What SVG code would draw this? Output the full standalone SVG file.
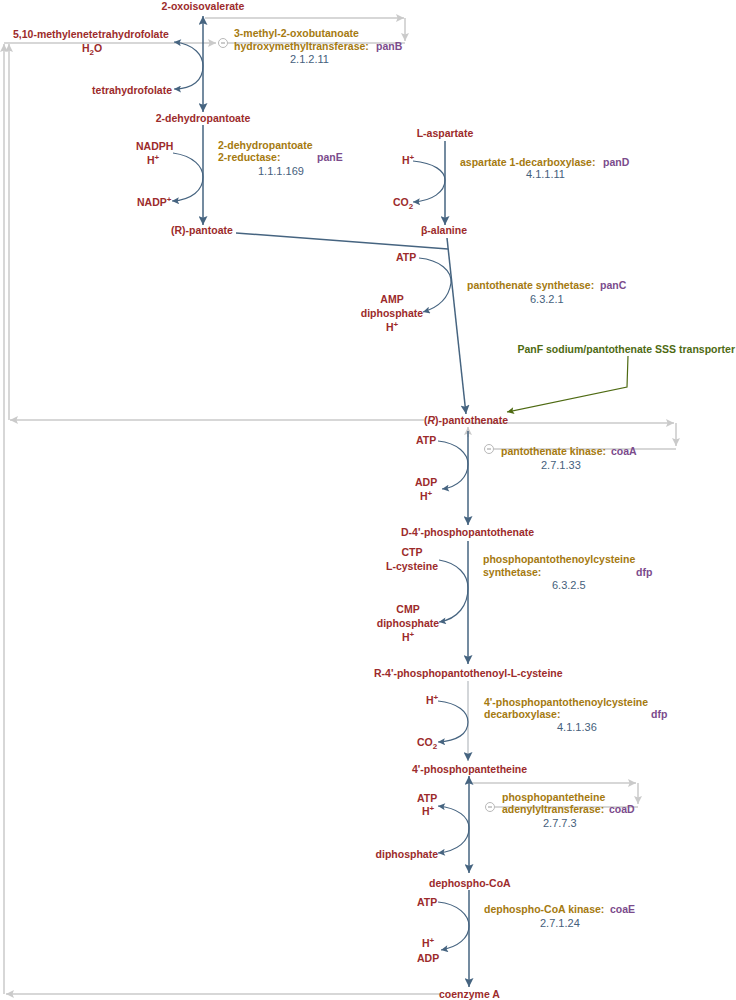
<svg xmlns="http://www.w3.org/2000/svg" width="736" height="1000" viewBox="0 0 736 1000">
<style>
text{font-family:"Liberation Sans",Arial,sans-serif;font-size:11px}
.m,.e,.g,.t{font-size:10.5px;font-weight:bold}
.m{fill:#9c2b2b}
.e{fill:#a57a10}
.g{fill:#7b4b8c}
.ec{fill:#45607c}
.t{fill:#4e6a12}
.ln{fill:none;stroke:#466480;stroke-width:1.5}
.sd{fill:none;stroke:#466480;stroke-width:1.2}
.gr{fill:none;stroke:#cacaca;stroke-width:1.5}
.inh{fill:#fff;stroke:#b8b8b8;stroke-width:1}
</style>
<defs>
<marker id="ah" viewBox="0 0 10 10" refX="10" refY="5" markerWidth="10" markerHeight="9" markerUnits="userSpaceOnUse" orient="auto-start-reverse"><path d="M0,0 L10,5 L0,10 L2,5 z" fill="#466480"/></marker>
<marker id="as" viewBox="0 0 10 10" refX="10" refY="5" markerWidth="9" markerHeight="7" markerUnits="userSpaceOnUse" orient="auto-start-reverse"><path d="M0,0 L10,5 L0,10 L2,5 z" fill="#466480"/></marker>
<marker id="ag" viewBox="0 0 10 10" refX="10" refY="5" markerWidth="9" markerHeight="8" markerUnits="userSpaceOnUse" orient="auto"><path d="M0,0 L10,5 L0,10 L2,5 z" fill="#cacaca"/></marker>
<marker id="at" viewBox="0 0 10 10" refX="10" refY="5" markerWidth="10" markerHeight="7" markerUnits="userSpaceOnUse" orient="auto"><path d="M0,0 L10,5 L0,10 L2,5 z" fill="#4e6a12"/></marker>
</defs>

<g id="connectors">
<path class="gr" d="M205 18 H404" marker-end="url(#ag)"/>
<path class="gr" d="M405 18 V41" marker-end="url(#ag)"/>
<path class="gr" d="M405 43 H228"/>
<path class="gr" d="M4 43 H216" marker-end="url(#ag)"/>
<path class="gr" d="M440 994 H6" marker-end="url(#ag)"/>
<path class="gr" d="M4 994 V44" marker-end="url(#ag)"/>
<path class="gr" d="M424 420 H10" marker-end="url(#ag)"/>
<path class="gr" d="M9 420 V44" marker-end="url(#ag)"/>
<path class="gr" d="M468 437 V427" marker-end="url(#ag)"/>
<path class="gr" d="M470 423 H674" marker-end="url(#ag)"/>
<path class="gr" d="M676 423 V446" marker-end="url(#ag)"/>
<path class="gr" d="M676 449 H494"/>
<path class="gr" d="M470 783 H636" marker-end="url(#ag)"/>
<path class="gr" d="M638 783 V804" marker-end="url(#ag)"/>
<path class="gr" d="M638 807 H495"/>
<circle class="inh" cx="223" cy="43" r="4.5"/><path d="M221 43 H225" stroke="#999" stroke-width="1"/>
<circle class="inh" cx="489" cy="449" r="4.5"/><path d="M487 449 H491" stroke="#999" stroke-width="1"/>
<circle class="inh" cx="490" cy="807" r="4.5"/><path d="M488 807 H492" stroke="#999" stroke-width="1"/>

<path class="ln" d="M203 16 V112" marker-start="url(#ah)" marker-end="url(#ah)"/>
<path class="ln" d="M203 125 V225" marker-end="url(#ah)"/>
<path class="ln" d="M445 141 V225" marker-end="url(#ah)"/>
<path class="ln" d="M236 233 L448 249"/>
<path class="ln" d="M447 238 L466 414" marker-end="url(#ah)"/>
<path class="ln" d="M468 431 V525" marker-end="url(#ah)"/>
<path class="ln" d="M468 541 V664" marker-end="url(#ah)"/>
<path d="M468 681 V761" fill="none" stroke="#c4c8cc" stroke-width="1.5" marker-end="url(#ah)"/>
<path class="ln" d="M469 776 V873" marker-start="url(#ah)" marker-end="url(#ah)"/>
<path class="ln" d="M469 890 V987" marker-end="url(#ah)"/>

<path class="sd" d="M174 42 C195 44,203 56,203 66 C203 80,193 89,174 89" marker-start="url(#as)" marker-end="url(#as)"/>
<path class="sd" d="M173 153 C194 156,203 167,203 177 C203 190,192 200,172 201" marker-end="url(#as)"/>
<path class="sd" d="M413 161 C434 163,445 171,445 180 C445 192,432 201,413 202" marker-end="url(#as)"/>
<path class="sd" d="M419 258 C440 260,452 271,451 283 C449 296,440 307,423 312" marker-end="url(#as)"/>
<path class="sd" d="M438 441 C458 443,468 454,468 464 C468 477,458 487,442 489" marker-end="url(#as)"/>
<path class="sd" d="M439 560 C458 563,468 575,468 588 C468 605,458 619,439 622" marker-end="url(#as)"/>
<path class="sd" d="M438 701 C458 703,468 712,468 722 C468 734,457 741,438 742" marker-end="url(#as)"/>
<path class="sd" d="M438 806 C458 808,469 817,469 828 C469 841,458 851,438 853" marker-start="url(#as)" marker-end="url(#as)"/>
<path class="sd" d="M438 902 C458 904,469 915,469 926 C469 938,458 947,441 950" marker-end="url(#as)"/>

<path d="M628 356 L627 387 L507 412" fill="none" stroke="#4e6a12" stroke-width="1.2" marker-end="url(#at)"/>
</g>

<g id="n-2-oxoisovalerate"><text class="m" x="203" y="10" text-anchor="middle">2-oxoisovalerate</text></g>
<g id="n-methylene-thf"><text class="m" x="13" y="38">5,10-methylenetetrahydrofolate</text></g>
<g id="n-h2o"><text class="m" x="82" y="52">H<tspan dy="3" font-size="8">2</tspan><tspan dy="-3">O</tspan></text></g>
<g id="n-thf"><text class="m" x="172" y="94" text-anchor="end">tetrahydrofolate</text></g>
<g id="n-2-dehydropantoate"><text class="m" x="203" y="122" text-anchor="middle">2-dehydropantoate</text></g>
<g id="e-panB">
<text class="e" x="234" y="37">3-methyl-2-oxobutanoate</text>
<text class="e" x="234" y="50">hydroxymethyltransferase:</text>
<text class="g" x="376" y="50">panB</text>
<text class="ec" x="290" y="63">2.1.2.11</text>
</g>

<g id="n-nadph"><text class="m" x="136" y="150">NADPH</text><text class="m" x="147" y="164">H<tspan dy="-4" font-size="8">+</tspan></text></g>
<g id="n-nadp"><text class="m" x="137" y="206">NADP<tspan dy="-4" font-size="8">+</tspan></text></g>
<g id="e-panE">
<text class="e" x="218" y="149">2-dehydropantoate</text>
<text class="e" x="218" y="161">2-reductase:</text>
<text class="g" x="317" y="161">panE</text>
<text class="ec" x="258" y="175">1.1.1.169</text>
</g>
<g id="n-pantoate"><text class="m" x="171" y="234">(R)-pantoate</text></g>

<g id="n-l-aspartate"><text class="m" x="445" y="137" text-anchor="middle">L-aspartate</text></g>
<g id="n-h-asp"><text class="m" x="402" y="164">H<tspan dy="-4" font-size="8">+</tspan></text></g>
<g id="n-co2-asp"><text class="m" x="393" y="206">CO<tspan dy="3" font-size="8">2</tspan></text></g>
<g id="e-panD">
<text class="e" x="460" y="166">aspartate 1-decarboxylase:</text>
<text class="g" x="603" y="166">panD</text>
<text class="ec" x="526" y="178">4.1.1.11</text>
</g>
<g id="n-b-alanine"><text class="m" x="444" y="234" text-anchor="middle">β-alanine</text></g>

<g id="n-atp-panC"><text class="m" x="396" y="261">ATP</text></g>
<g id="n-amp"><text class="m" x="392" y="303" text-anchor="middle">AMP</text><text class="m" x="392" y="317" text-anchor="middle">diphosphate</text><text class="m" x="386" y="331">H<tspan dy="-4" font-size="8">+</tspan></text></g>
<g id="e-panC">
<text class="e" x="467" y="289">pantothenate synthetase:</text>
<text class="g" x="600" y="289">panC</text>
<text class="ec" x="530" y="303">6.3.2.1</text>
</g>

<g id="e-panF"><text class="t" x="735" y="353" text-anchor="end">PanF sodium/pantothenate SSS transporter</text></g>

<g id="n-pantothenate"><text class="m" x="424" y="424">(<tspan font-style="italic">R</tspan>)-pantothenate</text></g>

<g id="n-atp-coaA"><text class="m" x="416" y="444">ATP</text></g>
<g id="n-adp-coaA"><text class="m" x="415" y="486">ADP</text><text class="m" x="420" y="500">H<tspan dy="-4" font-size="8">+</tspan></text></g>
<g id="e-coaA">
<text class="e" x="501" y="455">pantothenate kinase:</text>
<text class="g" x="611" y="455">coaA</text>
<text class="ec" x="541" y="469">2.7.1.33</text>
</g>
<g id="n-p-pantothenate"><text class="m" x="401" y="536">D-4'-phosphopantothenate</text></g>

<g id="n-ctp"><text class="m" x="412" y="556" text-anchor="middle">CTP</text><text class="m" x="412" y="570" text-anchor="middle">L-cysteine</text></g>
<g id="n-cmp"><text class="m" x="408" y="613" text-anchor="middle">CMP</text><text class="m" x="408" y="627" text-anchor="middle">diphosphate</text><text class="m" x="402" y="641">H<tspan dy="-4" font-size="8">+</tspan></text></g>
<g id="e-dfp1">
<text class="e" x="483" y="563">phosphopantothenoylcysteine</text>
<text class="e" x="483" y="576">synthetase:</text>
<text class="g" x="636" y="576">dfp</text>
<text class="ec" x="552" y="589">6.3.2.5</text>
</g>
<g id="n-ppc"><text class="m" x="374" y="677">R-4'-phosphopantothenoyl-L-cysteine</text></g>

<g id="n-h-dfp"><text class="m" x="426" y="704">H<tspan dy="-4" font-size="8">+</tspan></text></g>
<g id="n-co2-dfp"><text class="m" x="417" y="746">CO<tspan dy="3" font-size="8">2</tspan></text></g>
<g id="e-dfp2">
<text class="e" x="484" y="706">4'-phosphopantothenoylcysteine</text>
<text class="e" x="484" y="718">decarboxylase:</text>
<text class="g" x="651" y="718">dfp</text>
<text class="ec" x="557" y="731">4.1.1.36</text>
</g>
<g id="n-pantetheine"><text class="m" x="412" y="773">4'-phosphopantetheine</text></g>

<g id="n-atp-coaD"><text class="m" x="417" y="802">ATP</text><text class="m" x="422" y="815">H<tspan dy="-4" font-size="8">+</tspan></text></g>
<g id="n-ppi-coaD"><text class="m" x="438" y="858" text-anchor="end">diphosphate</text></g>
<g id="e-coaD">
<text class="e" x="502" y="801">phosphopantetheine</text>
<text class="e" x="502" y="813">adenylyltransferase:</text>
<text class="g" x="609" y="813">coaD</text>
<text class="ec" x="543" y="827">2.7.7.3</text>
</g>
<g id="n-dephospho-coa"><text class="m" x="429" y="887">dephospho-CoA</text></g>

<g id="n-atp-coaE"><text class="m" x="417" y="906">ATP</text></g>
<g id="n-adp-coaE"><text class="m" x="422" y="947">H<tspan dy="-4" font-size="8">+</tspan></text><text class="m" x="417" y="962">ADP</text></g>
<g id="e-coaE">
<text class="e" x="484" y="913">dephospho-CoA kinase:</text>
<text class="g" x="610" y="913">coaE</text>
<text class="ec" x="540" y="927">2.7.1.24</text>
</g>
<g id="n-coenzyme-a"><text class="m" x="439" y="998">coenzyme A</text></g>
</svg>
